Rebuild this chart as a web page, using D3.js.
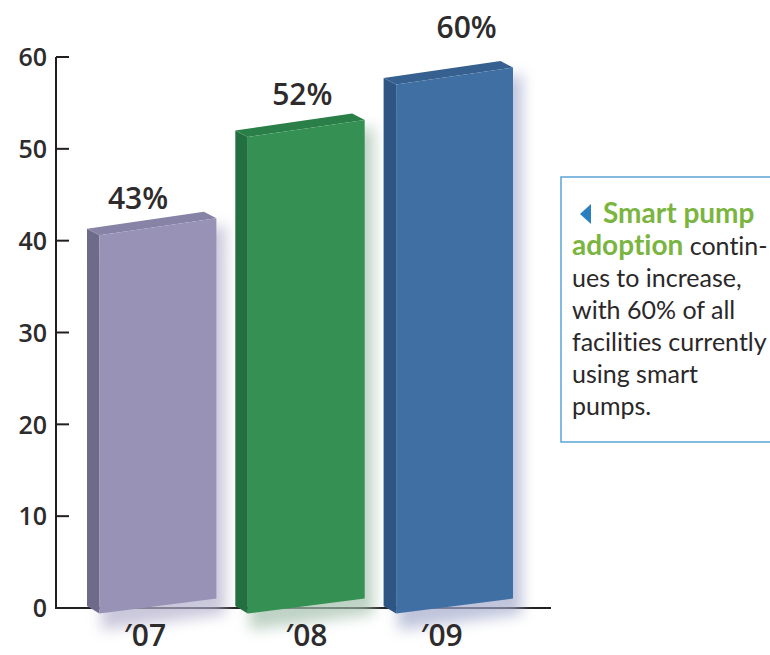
<!DOCTYPE html>
<html><head><meta charset="utf-8">
<script src="https://cdn.jsdelivr.net/npm/d3@7"></script>
<style>html,body{margin:0;padding:0;background:#fff;overflow:hidden}svg{display:block}
text{font-family:"Open Sans",sans-serif;fill:#262324}
.call text{font-family:"Lato",sans-serif;font-size:25px;fill:#2b2829;font-variant-ligatures:none}</style>
</head><body><svg width="770" height="655"></svg>
<script>
const categories = ["\u203207","\u203208","\u203209"];
const labels = ["43%","52%","60%"];
const barTops = [41.3, 52, 57.7];
const frontColors = ["#9892b6","#359053","#3f6fa3"];
const sideColors = ["#6e6a8a","#22703f","#2f5584"];
const topColors = ["#8683a6","#2a7f48","#36608f"];
const shadowColors = ["#b4b0cc","#a3bfac","#a4abcc"];
const yTicks = [0,10,20,30,40,50,60];
const calloutLines = [
  [["Smart pump",true]],
  [["adoption",true],[" contin-",false]],
  [["ues to increase,",false]],
  [["with 60% of all",false]],
  [["facilities currently",false]],
  [["using smart",false]],
  [["pumps.",false]]
];
// hand-placed label offsets of the original layout
const valueDx = [51, 67, 83], valueDy = [-20, -25, -40], catDx = [58, 71, 58];

const svg = d3.select("svg");
const y = d3.scaleLinear().domain([0,60]).range([608,57]);
const x = d3.scaleBand().domain(categories).range([87,513]).paddingInner(0.1275).paddingOuter(0);
const f = svg.append("defs").append("filter").attr("id","blur").attr("x","-40%").attr("y","-40%").attr("width","180%").attr("height","180%");
f.append("feGaussianBlur").attr("stdDeviation",7);

const depth = 12.5, rise = 6.5, skew = 17, dropB = 15;
const line = d3.line();

// axis
const axis = d3.axisLeft(y).tickValues(yTicks).tickSize(0);
const ag = svg.append("g");
ag.append("line").attr("x1",56).attr("x2",56).attr("y1",y(60)).attr("y2",y(0)).attr("stroke","#231f20").attr("stroke-width",2);
ag.append("line").attr("x1",55).attr("x2",551).attr("y1",y(0)).attr("y2",y(0)).attr("stroke","#231f20").attr("stroke-width",2);
ag.selectAll("line.t").data(yTicks.slice(1)).join("line").attr("class","t")
  .attr("x1",56).attr("x2",69).attr("y1",d=>y(d)).attr("y2",d=>y(d)).attr("stroke","#231f20").attr("stroke-width",2);
const tickG = svg.append("g").attr("transform","translate(56,0)").call(axis);
tickG.select(".domain").remove();
tickG.selectAll("text").attr("x",-9).attr("dy","0.35em").style("font-size","25px").style("font-weight",600).style("fill","#2e2b2c").style("font-family",'"Open Sans",sans-serif');

// bars
categories.forEach((c,i)=>{
  const L = x(c), W = x.bandwidth(), F = L+depth, R = L+W;
  const t = y(barTops[i]), b = y(0);
  const g = svg.append("g");
  g.append("path").attr("filter","url(#blur)").attr("fill",shadowColors[i]).attr("opacity",0.7)
    .attr("d",line([[F+2,b+22],[R+9,b+6],[R+9,t+rise-skew+6],[F+2,t+30]])+"Z");
  g.append("path").attr("fill",sideColors[i])
    .attr("d",line([[L,t],[F,t+rise],[F,b+5.5],[L,b-2]])+"Z");
  g.append("path").attr("fill",topColors[i])
    .attr("d",line([[L,t],[F,t+rise],[R,t+rise-skew],[R-depth,t-skew]])+"Z");
  g.append("path").attr("fill",frontColors[i])
    .attr("d",line([[F,t+rise],[R,t+rise-skew],[R,b+5.5-dropB],[F,b+5.5]])+"Z");
  svg.append("text").attr("x",L+valueDx[i]).attr("y",t+valueDy[i])
    .attr("text-anchor","middle").style("font-size","30px").style("font-weight",600).style("fill","#2e2b2c").text(labels[i]);
  svg.append("text").attr("x",L+catDx[i]).attr("y",646)
    .attr("text-anchor","middle").style("font-size","30px").style("font-weight",600).style("fill","#2e2b2c").text(c);
});

// callout
const call = svg.append("g").attr("class","call");
call.append("rect").attr("x",561).attr("y",177).attr("width",220).attr("height",265).attr("fill","#fff").attr("stroke","#5ba4d6").attr("stroke-width",1.5);
call.append("path").attr("fill","#2a7fc0").attr("d",line([[591,204],[591,224],[580,214]])+"Z");
calloutLines.forEach((ln,i)=>{
  const t = call.append("text").attr("x",i===0?603:572).attr("y",223+i*32);
  ln.forEach(([s,b])=>{
    t.append("tspan").text(s).style("font-weight",b?700:400).style("font-size",b?"28px":"25px").style("fill",b?"#7ab53f":"#2b2829");
  });
});
</script></body></html>
